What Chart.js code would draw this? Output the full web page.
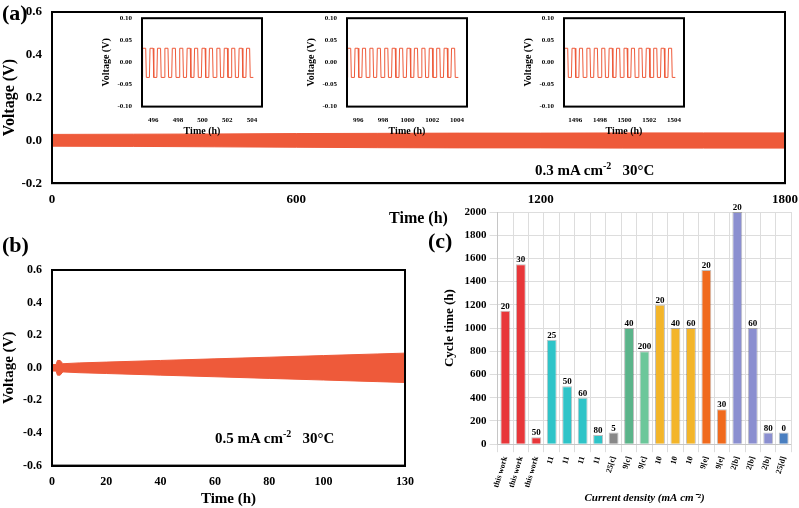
<!DOCTYPE html>
<html>
<head>
<meta charset="utf-8">
<script src="https://cdn.jsdelivr.net/npm/chart.js@4.4.0/dist/chart.umd.min.js"></script>
<style>
body { margin:0; background:#fff; width:799px; height:508px; position:relative; overflow:hidden; font-family:"Liberation Serif", serif; }
canvas { position:absolute; }
.lbl { position:absolute; font-weight:bold; color:#000; font-family:"Liberation Serif", serif; }
</style>
</head>
<body>
<canvas id="ca" style="left:0;top:2px" width="799" height="226"></canvas>
<canvas id="i1" style="left:100px;top:12px" width="170" height="125"></canvas>
<canvas id="i2" style="left:305px;top:12px" width="170" height="125"></canvas>
<canvas id="i3" style="left:522px;top:12px" width="170" height="125"></canvas>
<canvas id="cb" style="left:0;top:256px" width="415" height="252"></canvas>
<canvas id="cc" style="left:438px;top:200px" width="358" height="305"></canvas>
<div class="lbl" style="left:2px;top:0;font-size:22px">(a)</div>
<div class="lbl" style="left:2px;top:232px;font-size:22px">(b)</div>
<div class="lbl" style="left:428px;top:228px;font-size:22px">(c)</div>
<div class="lbl" style="left:535px;top:160px;font-size:15px">0.3 mA cm<sup style="font-size:10px">-2</sup> &nbsp;&nbsp;30°C</div>
<div class="lbl" style="left:215px;top:428px;font-size:15px">0.5 mA cm<sup style="font-size:10px">-2</sup> &nbsp;&nbsp;30°C</div>
<script>
// Datos panel (a): envolvente de la banda de voltaje
const tiemposA = [0, 200, 400, 600, 800, 1000, 1200, 1400, 1600, 1800];
const altoA    = [0.028, 0.029, 0.030, 0.032, 0.033, 0.034, 0.034, 0.035, 0.035, 0.035];
const bajoA    = [-0.027, -0.028, -0.030, -0.032, -0.034, -0.035, -0.035, -0.036, -0.036, -0.036];

// Datos de los recuadros (onda cuadrada)
const desfases = [0, 0.05, 0.3, 0.35, 0.6, 0.65, 0.9, 0.95, 1.2, 1.25, 1.5, 1.55, 1.8, 1.85, 2.1, 2.15, 2.4, 2.45, 2.7, 2.75, 3.0, 3.05, 3.3, 3.35, 3.6, 3.65, 3.9, 3.95, 4.2, 4.25, 4.5, 4.55, 4.8, 4.85, 5.1, 5.15, 5.4, 5.45, 5.7, 5.75, 6.0, 6.05, 6.3, 6.35, 6.6, 6.65, 6.9, 6.95, 7.2, 7.25, 7.5, 7.55, 7.8, 7.85, 8.1, 8.15, 8.4, 8.45, 8.7, 8.75, 9.0];
const voltajes = [-0.034, 0.032, 0.032, -0.034, -0.034, 0.032, 0.032, -0.034, -0.034, 0.032, 0.032, -0.034, -0.034, 0.032, 0.032, -0.034, -0.034, 0.032, 0.032, -0.034, -0.034, 0.032, 0.032, -0.034, -0.034, 0.032, 0.032, -0.034, -0.034, 0.032, 0.032, -0.034, -0.034, 0.032, 0.032, -0.034, -0.034, 0.032, 0.032, -0.034, -0.034, 0.032, 0.032, -0.034, -0.034, 0.032, 0.032, -0.034, -0.034, 0.032, 0.032, -0.034, -0.034, 0.032, 0.032, -0.034, -0.034, 0.032, 0.032, -0.034, -0.034];
const iniciosInset = [495.1, 995.1, 1495.1];
const ticksInset = [[496, 498, 500, 502, 504], [996, 998, 1000, 1002, 1004], [1496, 1498, 1500, 1502, 1504]];

// Datos panel (b)
const tiemposB = [0, 1.5, 2, 3, 4, 10, 20, 40, 60, 80, 100, 120, 130];
const altoB    = [0.02, 0.02, 0.045, 0.045, 0.025, 0.03, 0.035, 0.045, 0.055, 0.065, 0.075, 0.085, 0.09];
const bajoB    = [-0.02, -0.02, -0.045, -0.045, -0.025, -0.03, -0.035, -0.045, -0.055, -0.065, -0.075, -0.085, -0.09];

// Datos panel (c): tiempo de ciclo por trabajo
const barrasC   = ['this work', 'this work', 'this work', '11', '11', '11', '11', '25[c]', '9[c]', '9[c]', '10', '10', '10', '9[e]', '9[e]', '2[b]', '2[b]', '2[b]', '25[d]'];
const densidadC = ['20', '30', '50', '25', '50', '60', '80', '5', '40', '200', '20', '40', '60', '20', '30', '20', '60', '80', '0'];
const ciclosC   = [1150, 1550, 60, 900, 500, 400, 80, 100, 1000, 800, 1200, 1000, 1000, 1500, 300, 2000, 1000, 100, 100];
const coloresC  = ['#e8373a', '#e8373a', '#e8373a', '#2ec4c8', '#2ec4c8', '#2ec4c8', '#2ec4c8', '#888', '#5bb48a', '#6cc79a', '#f3b52a', '#f3b52a', '#f3b52a', '#f06a1d', '#f06a1d', '#8b8fd0', '#8b8fd0', '#8b8fd0', '#4a7fc0'];

const NARANJA = '#ee5a3a';
const fuente = "'Liberation Serif', serif";

// Marco negro alrededor del área de dibujo
const marco = {
    id: 'marco',
    afterDraw(chart, args, opts) {
        const a = chart.chartArea, ctx = chart.ctx;
        ctx.save();
        ctx.strokeStyle = '#000';
        ctx.lineWidth = opts.ancho || 2;
        ctx.strokeRect(a.left, a.top, a.right - a.left, a.bottom - a.top);
        ctx.restore();
    }
};

function puntos(xs, ys) {
    return xs.map((x, i) => ({ x: x, y: ys[i] }));
}

function ejes(xmin, xmax, xpaso, ymin, ymax, ypaso, tam, titX, titY, anchoY, ticksX) {
    return {
        x: {
            type: 'linear', min: xmin, max: xmax,
            grid: { display: false },
            border: { color: '#000', width: tam > 10 ? 2 : 1 },
            afterBuildTicks: ticksX ? (ax) => { ax.ticks = ticksX.map(v => ({ value: v })); } : undefined,
            ticks: { stepSize: xpaso, color: '#000', font: { family: fuente, weight: 'bold', size: tam }, maxRotation: 0, padding: 1,
                     callback: v => String(v) },
            title: { display: true, text: titX, color: '#000', font: { family: fuente, weight: 'bold', size: tam + 3 }, padding: 0 }
        },
        y: {
            min: ymin, max: ymax,
            grid: { display: false },
            border: { color: '#000', width: tam > 10 ? 2 : 1 },
            afterFit: (ax) => { ax.width = anchoY; },
            ticks: { stepSize: ypaso, color: '#000', font: { family: fuente, weight: 'bold', size: tam }, padding: 2,
                     callback: v => tam > 10 ? v.toFixed(1) : v.toFixed(2) },
            title: { display: true, text: titY, color: '#000', font: { family: fuente, weight: 'bold', size: tam + 3 }, padding: 0 }
        }
    };
}

function banda(xs, alto, bajo) {
    return [
        { data: puntos(xs, alto), borderColor: NARANJA, backgroundColor: NARANJA, borderWidth: 1, pointRadius: 0, fill: '+1' },
        { data: puntos(xs, bajo), borderColor: NARANJA, borderWidth: 1, pointRadius: 0, fill: false }
    ];
}

const comunes = { responsive: false, animation: false, plugins: { legend: { display: false }, tooltip: { enabled: false } } };

new Chart(document.getElementById('ca'), {
    type: 'line',
    data: { datasets: banda(tiemposA, altoA, bajoA) },
    options: Object.assign({}, comunes, {
        layout: { padding: { top: 10, right: 5 } },
        scales: ejes(0, 1800, 600, -0.2, 0.6, 0.2, 13, 'Time (h)', 'Voltage (V)', 52)
    }),
    plugins: [marco]
});

['i1', 'i2', 'i3'].forEach((id, k) => {
    const xs = desfases.map(d => iniciosInset[k] + d);
    new Chart(document.getElementById(id), {
        type: 'line',
        data: { datasets: [{ data: puntos(xs, voltajes), borderColor: NARANJA, borderWidth: 1, pointRadius: 0, fill: false }] },
        options: Object.assign({}, comunes, {
            layout: { padding: { top: 4, right: 8 } },
            scales: ejes(iniciosInset[k], iniciosInset[k] + 9.7, 2, -0.1, 0.1, 0.05, 7, 'Time (h)', 'Voltage (V)', 42, ticksInset[k])
        }),
        plugins: [marco]
    });
});

new Chart(document.getElementById('cb'), {
    type: 'line',
    data: { datasets: banda(tiemposB, altoB, bajoB) },
    options: Object.assign({}, comunes, {
        layout: { padding: { top: 14, right: 8 } },
        scales: ejes(0, 130, 20, -0.6, 0.6, 0.2, 12, 'Time (h)', 'Voltage (V)', 52)
    }),
    plugins: [marco]
});

// Etiquetas encima de cada barra
const etiquetas = {
    id: 'etiquetas',
    afterDatasetsDraw(chart) {
        const ctx = chart.ctx, meta = chart.getDatasetMeta(0);
        ctx.save();
        ctx.font = "bold 9px " + fuente;
        ctx.fillStyle = '#000';
        ctx.textAlign = 'center';
        meta.data.forEach((b, i) => ctx.fillText(densidadC[i], b.x, b.y - 2));
        ctx.restore();
    }
};

new Chart(document.getElementById('cc'), {
    type: 'bar',
    data: {
        labels: barrasC,
        datasets: [{ data: ciclosC, backgroundColor: coloresC, borderColor: 'rgba(0,0,0,0.25)', borderWidth: 1, barPercentage: 0.8 }]
    },
    options: Object.assign({}, comunes, {
        layout: { padding: { top: 12, right: 4 } },
        scales: {
            x: {
                grid: { color: '#ddd' },
                ticks: { color: '#000', font: { family: fuente, weight: 'bold', size: 8 }, maxRotation: 90, minRotation: 60, autoSkip: false },
                title: { display: true, text: 'Current density (mA cm⁻²)', color: '#000', font: { family: fuente, style: 'italic', weight: 'bold', size: 11 }, padding: 0 }
            },
            y: {
                min: 0, max: 2000,
                grid: { color: '#ddd' },
                ticks: { stepSize: 200, color: '#000', font: { family: fuente, weight: 'bold', size: 11 }, callback: v => String(v) },
                title: { display: true, text: 'Cycle time (h)', color: '#000', font: { family: fuente, weight: 'bold', size: 13 } }
            }
        }
    }),
    plugins: [etiquetas]
});
</script>
</body>
</html>
